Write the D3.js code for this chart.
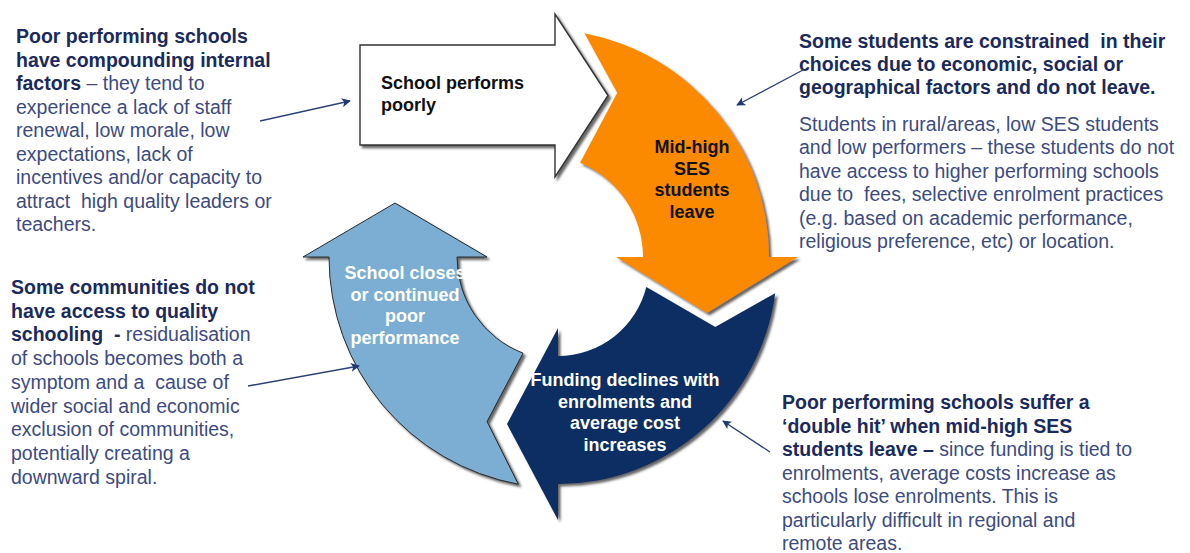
<!DOCTYPE html>
<html>
<head>
<meta charset="utf-8">
<script src="https://cdn.jsdelivr.net/npm/d3@7"></script>
<style>
  body { margin: 0; background: #fff; }
  text { font-family: "Liberation Sans", Arial, sans-serif; white-space: pre; }
</style>
</head>
<body>
<script>
// stage labels, one per arrow of the cycle
const stageWhite = ['School performs', 'poorly'];
const stageOrange = ['Mid-high', 'SES', 'students', 'leave'];
const stageNavy = ['Funding declines with', 'enrolments and', 'average cost', 'increases'];
const stageLight = ['School closes', 'or continued', 'poor', 'performance'];

// annotation blocks: each line is a list of [text, bold]
const noteTopLeft = [
  [['Poor performing schools', 1]],
  [['have compounding internal', 1]],
  [['factors', 1], [' \u2013 they tend to', 0]],
  [['experience a lack of staff', 0]],
  [['renewal, low morale, low', 0]],
  [['expectations, lack of', 0]],
  [['incentives and/or capacity to', 0]],
  [['attract  high quality leaders or', 0]],
  [['teachers.', 0]]
];
const noteBottomLeft = [
  [['Some communities do not', 1]],
  [['have access to quality', 1]],
  [['schooling  - ', 1], ['residualisation', 0]],
  [['of schools becomes both a', 0]],
  [['symptom and a  cause of', 0]],
  [['wider social and economic', 0]],
  [['exclusion of communities,', 0]],
  [['potentially creating a', 0]],
  [['downward spiral.', 0]]
];
const noteTopRightHead = [
  [['Some students are constrained  in their', 1]],
  [['choices due to economic, social or', 1]],
  [['geographical factors and do not leave.', 1]]
];
const noteTopRightBody = [
  [['Students in rural/areas, low SES students', 0]],
  [['and low performers \u2013 these students do not', 0]],
  [['have access to higher performing schools', 0]],
  [['due to  fees, selective enrolment practices', 0]],
  [['(e.g. based on academic performance,', 0]],
  [['religious preference, etc) or location.', 0]]
];
const noteBottomRight = [
  [['Poor performing schools suffer a', 1]],
  [['\u2018double hit\u2019 when mid-high SES', 1]],
  [['students leave \u2013 ', 1], ['since funding is tied to', 0]],
  [['enrolments, average costs increase as', 0]],
  [['schools lose enrolments. This is', 0]],
  [['particularly difficult in regional and', 0]],
  [['remote areas.', 0]]
];

const W = 1190, H = 553;
const svg = d3.select('body').append('svg')
  .attr('width', W)
  .attr('height', H);

const defs = svg.append('defs');
defs.append('filter')
  .attr('id', 'shadow')
  .attr('x', '-10%').attr('y', '-10%')
  .attr('width', '130%').attr('height', '130%')
  .append('feDropShadow')
  .attr('dx', 2.5).attr('dy', 2.5)
  .attr('stdDeviation', 1.2)
  .attr('flood-color', '#333')
  .attr('flood-opacity', 0.75);

defs.append('marker')
  .attr('id', 'lead')
  .attr('viewBox', '0 0 10 10')
  .attr('refX', 9).attr('refY', 5)
  .attr('markerWidth', 9).attr('markerHeight', 9)
  .attr('markerUnits', 'userSpaceOnUse')
  .attr('orient', 'auto')
  .append('path')
  .attr('d', 'M0,0L10,5L0,10L2.5,5Z')
  .attr('fill', '#22396e');

const rad = d3.scaleLinear().domain([0, 180]).range([0, Math.PI]);

// curved cycle arrow built from a center, two radii and a few angles
function arcArrow(s) {
  const pt = (r, a) => [s.cx + r * Math.cos(rad(a)), s.cy + r * Math.sin(rad(a))];
  const p = d3.path();
  p.moveTo(...pt(s.rOut, s.tailOut));
  p.arc(s.cx, s.cy, s.rOut, rad(s.tailOut), rad(s.head), false);
  p.lineTo(...pt(s.wingOut, s.head));
  const mid = pt((s.wingIn + s.wingOut) / 2, s.head);
  p.lineTo(mid[0] - Math.sin(rad(s.head)) * s.depth, mid[1] + Math.cos(rad(s.head)) * s.depth);
  p.lineTo(...pt(s.wingIn, s.head));
  p.lineTo(...pt(s.rIn, s.head));
  p.arc(s.cx, s.cy, s.rIn, rad(s.head), rad(s.tailIn), true);
  p.lineTo(...pt(s.notchR, s.notch));
  p.closePath();
  return p.toString();
}

const arrows = [
  { fill: '#fb8a00', stroke: 'none', cx: 541, cy: 257, rIn: 102, rOut: 228,
    tailOut: -79, tailIn: -67.5, notch: -65.1, notchR: 181, head: 0, wingIn: 75, wingOut: 257, depth: 56 },
  { fill: '#0b2d62', stroke: 'none', cx: 558, cy: 265, rIn: 91, rOut: 219,
    tailOut: 7.4, tailIn: 14, notch: 21.5, notchR: 169, head: 90, wingIn: 63, wingOut: 255, depth: 51 },
  { fill: '#7badd2', stroke: '#2b2b2b', cx: 560, cy: 257, rIn: 103, rOut: 231,
    tailOut: 100.4, tailIn: 111, notch: 113.9, notchR: 180, head: 180, wingIn: 73, wingOut: 257, depth: 54 }
];

// straight white arrow
const straight = { x0: 360, x1: 555, yTop: 45, yBot: 145, headTop: 14, headBot: 177, tipX: 608 };
const sp = d3.path();
sp.moveTo(straight.x0, straight.yTop);
sp.lineTo(straight.x1, straight.yTop);
sp.lineTo(straight.x1, straight.headTop);
sp.lineTo(straight.tipX, (straight.headTop + straight.headBot) / 2);
sp.lineTo(straight.x1, straight.headBot);
sp.lineTo(straight.x1, straight.yBot);
sp.lineTo(straight.x0, straight.yBot);
sp.closePath();

svg.append('path')
  .attr('d', sp.toString())
  .attr('fill', '#fff')
  .attr('stroke', '#333')
  .attr('stroke-width', 1.4)
  .attr('filter', 'url(#shadow)');

svg.selectAll('path.cyc')
  .data(arrows)
  .enter()
  .append('path')
  .attr('class', 'cyc')
  .attr('d', arcArrow)
  .attr('fill', d => d.fill)
  .attr('stroke', d => d.stroke)
  .attr('stroke-width', 1)
  .attr('filter', 'url(#shadow)');

// labels inside arrows
function label(lines, x, y0, step, color, anchor) {
  svg.append('g').selectAll('text')
    .data(lines)
    .enter()
    .append('text')
    .attr('x', x)
    .attr('y', (d, i) => y0 + i * step)
    .attr('text-anchor', anchor)
    .attr('font-size', '18px')
    .attr('font-weight', 'bold')
    .attr('fill', color)
    .text(d => d);
}
label(stageWhite, 381, 89, 22, '#111', 'start');
label(stageOrange, 692, 153, 21.5, '#111', 'middle');
label(stageNavy, 625, 386, 21.5, '#fff', 'middle');
label(stageLight, 405, 279, 21.5, '#fff', 'middle');

// annotation text blocks
function note(lines, x, y0, step) {
  const t = svg.append('g').selectAll('text')
    .data(lines)
    .enter()
    .append('text')
    .attr('x', x)
    .attr('y', (d, i) => y0 + i * step)
    .attr('font-size', '19.5px');
  t.selectAll('tspan')
    .data(d => d)
    .enter()
    .append('tspan')
    .attr('font-weight', d => d[1] ? 'bold' : 'normal')
    .attr('fill', d => d[1] ? '#1b2a5c' : '#3d4b80')
    .text(d => d[0]);
}
note(noteTopLeft, 16, 43, 23.5);
note(noteBottomLeft, 11, 294, 23.7);
note(noteTopRightHead, 799, 48, 23.2);
note(noteTopRightBody, 799, 131, 23.4);
note(noteBottomRight, 782, 409, 23.5);

// leader arrows from notes to the cycle
const leaders = [
  [[260, 121], [350, 101]],
  [[803, 70], [737, 105]],
  [[248, 386], [359, 366]],
  [[770, 452], [723, 421]]
];
svg.selectAll('line.lead')
  .data(leaders)
  .enter()
  .append('line')
  .attr('class', 'lead')
  .attr('x1', d => d[0][0]).attr('y1', d => d[0][1])
  .attr('x2', d => d[1][0]).attr('y2', d => d[1][1])
  .attr('stroke', '#2c4275')
  .attr('stroke-width', 1.4)
  .attr('marker-end', 'url(#lead)');
</script>
</body>
</html>
